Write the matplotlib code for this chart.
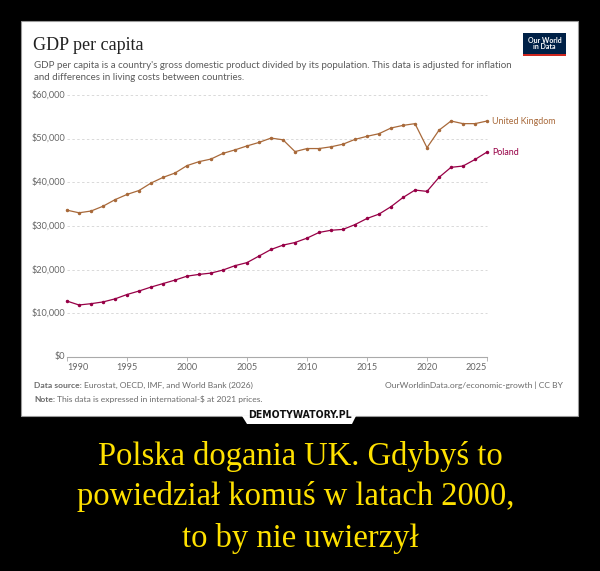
import numpy as np
import matplotlib.pyplot as plt
from matplotlib.patches import Rectangle, Polygon

# GDP per capita, thousand international-$ (2021 prices)
years = list(range(1990, 2026))
uk = [33.6, 33.0, 33.4, 34.5, 36.0, 37.2, 38.1, 39.8, 41.1, 42.1,
      43.8, 44.7, 45.3, 46.6, 47.4, 48.3, 49.1, 50.1, 49.7, 47.0,
      47.7, 47.7, 48.1, 48.7, 49.8, 50.5, 51.1, 52.4, 53.0, 53.4,
      47.9, 51.9, 54.0, 53.4, 53.4, 54.0]
poland = [12.8, 11.9, 12.2, 12.6, 13.3, 14.3, 15.1, 16.0, 16.8, 17.6,
          18.5, 18.9, 19.2, 19.9, 20.9, 21.6, 23.1, 24.6, 25.6, 26.2,
          27.2, 28.5, 29.0, 29.2, 30.3, 31.7, 32.7, 34.4, 36.5, 38.2,
          37.9, 41.1, 43.4, 43.7, 45.2, 46.9]
y_ticks = [0, 10000, 20000, 30000, 40000, 50000, 60000]
x_ticks = [1990, 1995, 2000, 2005, 2010, 2015, 2020, 2025]

W, H = 600, 571
uk_col = '#A8693A'
pl_col = '#970046'
grey = '#666666'
foot = '#6a6a6a'

fig = plt.figure(figsize=(W / 100, H / 100), dpi=100, facecolor='black')


def fx(x):
    return x / W


def fy(y):
    return 1 - y / H


# white panel of the demotivator
fig.patches.append(Rectangle((fx(21), fy(416)), fx(578) - fx(21), fy(21) - fy(416),
                             transform=fig.transFigure, facecolor='white',
                             edgecolor='#9a9a9a', linewidth=0.8, zorder=-2))
fig.patches.append(Polygon([(fx(242), fy(416)), (fx(356), fy(416)),
                            (fx(352), fy(424)), (fx(247), fy(424))],
                           closed=True, transform=fig.transFigure,
                           facecolor='white', edgecolor='none', zorder=-1))

# chart axes
ax = fig.add_axes([fx(67), fy(357), fx(487) - fx(67), fy(94.8) - fy(357)])
ax.set_zorder(3)
ax.set_facecolor('none')
ax.set_xlim(1990, 2025)
ax.set_ylim(0, 60000)

for v in y_ticks[1:]:
    ax.plot([1990, 2025], [v, v], color='#d9d9d9', lw=0.7,
            dashes=(2.5, 2.5), clip_on=False, zorder=1)
for v in y_ticks:
    ax.text(-0.005, v, '${:,}'.format(v), transform=ax.get_yaxis_transform(),
            ha='right', va='center', fontsize=6.6, color=grey, family='Lato')

ax.plot(years, np.array(uk) * 1000, color=uk_col, lw=0.9, marker='o', ms=1.5,
        clip_on=False, zorder=3)
ax.plot(years, np.array(poland) * 1000, color=pl_col, lw=0.9, marker='o', ms=1.5,
        clip_on=False, zorder=3)
ax.text(2025.4, uk[-1] * 1000, 'United Kingdom', color=uk_col, fontsize=6.4,
        family='Lato', va='center', ha='left')
ax.text(2025.4, poland[-1] * 1000, 'Poland', color=pl_col, fontsize=6.4,
        family='Lato', va='center', ha='left')

for s in ['top', 'right', 'left']:
    ax.spines[s].set_visible(False)
ax.spines['bottom'].set_color('#aaaaaa')
ax.spines['bottom'].set_linewidth(0.8)
ax.set_yticks([])
ax.set_xticks(x_ticks)
ax.set_xticklabels([str(t) for t in x_ticks], fontsize=6.6, color=grey, family='Lato')
ax.tick_params(axis='x', length=3, width=0.6, color='#aaaaaa', pad=1.5)
labels = ax.get_xticklabels()
labels[0].set_ha('left')
labels[-1].set_ha('right')

# header
fig.text(fx(33), fy(45), 'GDP per capita', fontsize=13, family='Liberation Serif',
         color='#222222', va='center', ha='left')
fig.text(fx(34), fy(66), "GDP per capita is a country's gross domestic product divided by its "
         "population. This data is adjusted for inflation", fontsize=7.0, family='Lato',
         color='#5b5b5b', va='center')
fig.text(fx(34), fy(77.5), 'and differences in living costs between countries.',
         fontsize=7.0, family='Lato', color='#5b5b5b', va='center')

# OWID logo
fig.patches.append(Rectangle((fx(523), fy(56)), fx(566) - fx(523), fy(33) - fy(56),
                             transform=fig.transFigure, facecolor='#002147',
                             edgecolor='none', zorder=2))
fig.patches.append(Rectangle((fx(523), fy(56)), fx(566) - fx(523), fy(54) - fy(56),
                             transform=fig.transFigure, facecolor='#ce261e',
                             edgecolor='none', zorder=3))
fig.text(fx(544.5), fy(43.5), 'Our World\nin Data', fontsize=5, family='Lato',
         fontweight='bold', color='white', ha='center', va='center',
         linespacing=0.95, zorder=4)

# footer
fig.text(fx(34), fy(385), 'Data source:', fontsize=6.1, family='Lato',
         fontweight='bold', color=foot, va='center')
fig.text(fx(84), fy(385), 'Eurostat, OECD, IMF, and World Bank (2026)', fontsize=6.1,
         family='Lato', color=foot, va='center')
fig.text(fx(34), fy(399), 'Note:', fontsize=6.1, family='Lato', fontweight='bold',
         color=foot, va='center')
fig.text(fx(57), fy(399), 'This data is expressed in international-$ at 2021 prices.',
         fontsize=6.1, family='Lato', color=foot, va='center')
fig.text(fx(563), fy(385), 'OurWorldinData.org/economic-growth | CC BY', fontsize=6.1,
         family='Lato', color=foot, va='center', ha='right')

fig.text(fx(300), fy(415), 'DEMOTYWATORY.PL', fontsize=7.5, family='DejaVu Sans',
         fontweight='bold', fontstretch='condensed', color='#111111',
         ha='center', va='center', zorder=5)

# caption
caption = ['Polska dogania UK. Gdybyś to', 'powiedział komuś w latach 2000, ',
           'to by nie uwierzył']
for i, line in enumerate(caption):
    fig.text(0.5, fy(456 + 41 * i), line, fontsize=23.5, family='Liberation Serif',
             color='#FFE100', ha='center', va='center')

fig.savefig('out.png', dpi=100, facecolor='black')
